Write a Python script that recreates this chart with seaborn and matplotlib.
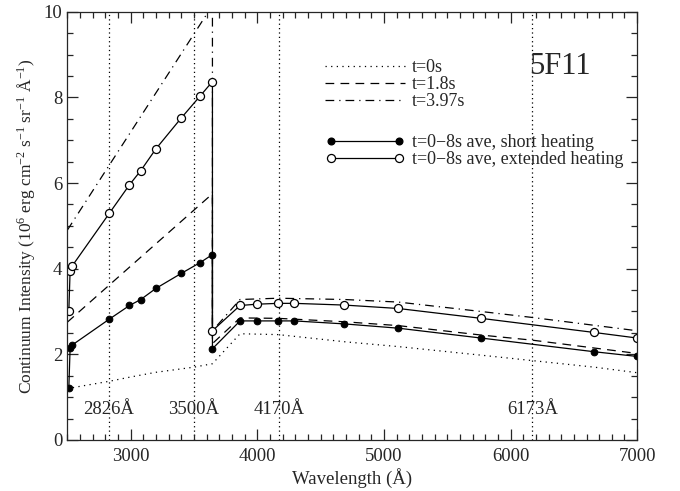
import numpy as np
import matplotlib
matplotlib.use("Agg")
import matplotlib.pyplot as plt
import seaborn as sns
from matplotlib.lines import Line2D
from matplotlib.ticker import MultipleLocator

# continuum intensities (10^6 erg cm-2 s-1 sr-1 A-1)
wl_t0 = [2500, 2831, 3000, 3200, 3500, 3646, 3864, 4165, 4700, 5114, 5767, 6661, 7000]
int_t0 = [1.20, 1.37, 1.47, 1.58, 1.70, 1.78, 2.48, 2.46, 2.29, 2.18, 1.98, 1.70, 1.57]

wl_t18 = [2500, 3646, 3646, 3864, 4165, 4688, 5114, 5767, 6173, 7000]
int_t18 = [2.75, 5.75, 2.25, 2.85, 2.84, 2.76, 2.67, 2.45, 2.33, 2.02]

wl_t397 = [2500, 3646, 3646, 3864, 4165, 4688, 5114, 5767, 6173, 7000]
int_t397 = [4.90, 10.15, 2.55, 3.28, 3.31, 3.28, 3.22, 3.00, 2.86, 2.55]

wl_ave = [2512, 2522, 2540, 2831, 2991, 3080, 3200, 3400, 3548, 3646, 3646,
          3864, 3995, 4165, 4293, 4688, 5114, 5767, 6661, 7000]
int_short = [1.22, 2.15, 2.22, 2.82, 3.14, 3.28, 3.54, 3.89, 4.14, 4.33, 2.13,
             2.78, 2.78, 2.78, 2.78, 2.71, 2.61, 2.38, 2.06, 1.95]
int_ext = [3.02, 3.95, 4.07, 5.29, 5.96, 6.29, 6.80, 7.52, 8.03, 8.37, 2.55,
           3.14, 3.17, 3.19, 3.19, 3.15, 3.07, 2.84, 2.51, 2.38]

line_wl = [2826, 3500, 4170, 6173]
line_labels = ["2826Å", "3500Å", "4170Å", "6173Å"]

sns.set_style("ticks")
plt.rcParams["font.family"] = ["Liberation Serif", "DejaVu Serif"]
plt.rcParams["mathtext.default"] = "regular"
plt.rcParams["font.size"] = 13.5

fig = plt.figure(figsize=(6.8, 4.91), dpi=100)
ax = fig.add_axes([0.099, 0.104, 0.838, 0.872])

lw = 0.9
dot_ls = (0, (1, 3.5))
dash_ls = (0, (7, 5))
dashdot_ls = (0, (7, 4, 1, 4))

sns.lineplot(x=wl_t0, y=int_t0, sort=False, estimator=None, ax=ax,
             color="black", lw=lw, linestyle=dot_ls)
sns.lineplot(x=wl_t18, y=int_t18, sort=False, estimator=None, ax=ax,
             color="black", lw=lw, linestyle=dash_ls)
sns.lineplot(x=wl_t397, y=int_t397, sort=False, estimator=None, ax=ax,
             color="black", lw=lw, linestyle=dashdot_ls)
sns.lineplot(x=wl_ave, y=int_short, sort=False, estimator=None, ax=ax,
             color="black", lw=lw, marker="o", markersize=4.8,
             markerfacecolor="black", markeredgecolor="black")
sns.lineplot(x=wl_ave, y=int_ext, sort=False, estimator=None, ax=ax,
             color="black", lw=lw, marker="o", markersize=5.8,
             markerfacecolor="white", markeredgecolor="black", markeredgewidth=0.9)

for w, lab in zip(line_wl, line_labels):
    ax.axvline(w, color="black", lw=0.9, linestyle=(0, (1, 2.5)), zorder=0)
    ax.text(w, 0.72, lab, ha="center", va="center", fontsize=13.5)

ax.text(0.81, 0.872, "5F11", transform=ax.transAxes, fontsize=22, ha="left", va="center")

ax.set_xlim(2500, 7000)
ax.set_ylim(0, 10)
ax.xaxis.set_major_locator(MultipleLocator(1000))
ax.xaxis.set_minor_locator(MultipleLocator(100))
ax.yaxis.set_major_locator(MultipleLocator(2))
ax.yaxis.set_minor_locator(MultipleLocator(0.5))
ax.tick_params(which="both", direction="in", top=True, right=True, width=0.9)
ax.tick_params(which="major", length=8)
ax.tick_params(which="minor", length=4.5)
ax.tick_params(axis="x", pad=6)
for s in ax.spines.values():
    s.set_linewidth(0.9)
ax.set_xticks([3000, 4000, 5000, 6000, 7000])
ax.set_xlabel("Wavelength (Å)", labelpad=2)
ax.set_ylabel("Continuum Intensity (10$^6$ erg cm$^{-2}$ s$^{-1}$ sr$^{-1}$ Å$^{-1}$)",
              fontsize=12.5, labelpad=5)

h_time = [Line2D([], [], color="black", lw=lw, linestyle=dot_ls),
          Line2D([], [], color="black", lw=lw, linestyle=dash_ls),
          Line2D([], [], color="black", lw=lw, linestyle=dashdot_ls)]
leg1 = ax.legend(h_time, ["t=0s", "t=1.8s", "t=3.97s"], loc="upper left",
                 bbox_to_anchor=(0.437, 0.91), frameon=False, fontsize=13,
                 handlelength=4.4, handletextpad=0.4, labelspacing=0.0, borderpad=0)
ax.add_artist(leg1)
h_ave = [Line2D([], [], color="black", lw=lw, marker="o", markersize=4.8,
                markerfacecolor="black"),
         Line2D([], [], color="black", lw=lw, marker="o", markersize=5.8,
                markerfacecolor="white", markeredgewidth=0.9)]
ax.legend(h_ave, ["t=0−8s ave, short heating", "t=0−8s ave, extended heating"],
          loc="upper left", bbox_to_anchor=(0.437, 0.735), frameon=False,
          fontsize=13, handlelength=4.4, handletextpad=0.4, labelspacing=0.0,
          borderpad=0, numpoints=2)

fig.savefig("out.png", dpi=100)
